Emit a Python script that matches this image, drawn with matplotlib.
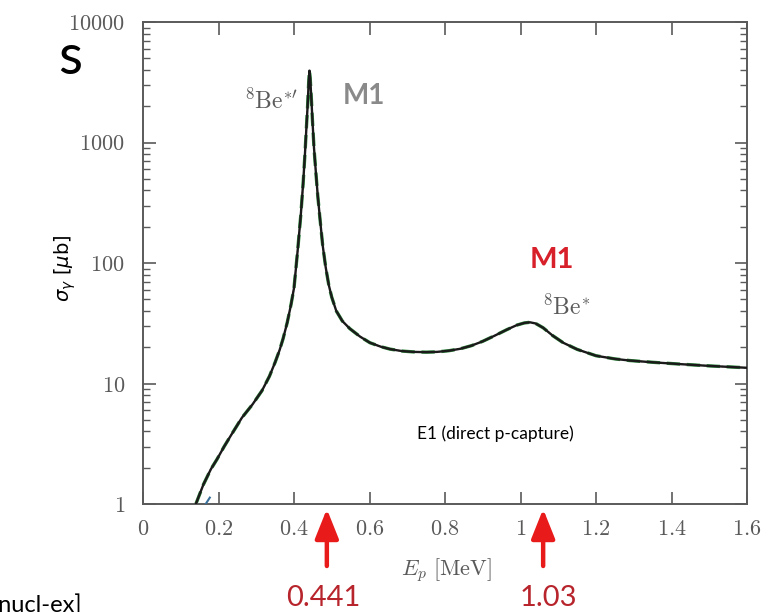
import matplotlib
matplotlib.use("Agg")
import matplotlib.pyplot as plt
from matplotlib.ticker import FixedLocator, NullFormatter, NullLocator

plt.rcParams['mathtext.fontset'] = 'cm'
plt.rcParams['font.family'] = ['Lato', 'DejaVu Sans']

# ---- data ----
energy = [0.140, 0.160, 0.180, 0.196, 0.215, 0.235, 0.262, 0.290, 0.315, 0.335,
          0.350, 0.362, 0.371, 0.382, 0.392, 0.400, 0.410, 0.418, 0.424, 0.429,
          0.433, 0.436, 0.439, 0.441, 0.443, 0.446, 0.449, 0.453, 0.458, 0.463,
          0.469, 0.476, 0.484, 0.492, 0.500, 0.512, 0.528, 0.548, 0.575, 0.601,
          0.630, 0.654, 0.685, 0.715, 0.750, 0.779, 0.810, 0.840, 0.870, 0.900,
          0.930, 0.964, 0.990, 1.010, 1.025, 1.040, 1.060, 1.085, 1.113, 1.150,
          1.200, 1.250, 1.290, 1.350, 1.420, 1.500, 1.600]
sigma = [1.0, 1.45, 1.95, 2.35, 3.0, 3.8, 5.2, 6.7, 8.7, 11.5,
         15.0, 19.0, 23.5, 32.0, 45.0, 62.0, 130.0, 250.0, 450.0, 800.0,
         1350.0, 2000.0, 3200.0, 3950.0, 3400.0, 2300.0, 1500.0, 900.0, 560.0, 360.0,
         230.0, 140.0, 92.0, 66.0, 52.0, 40.0, 33.0, 28.5, 24.5, 21.8,
         20.2, 19.3, 18.6, 18.3, 18.2, 18.3, 18.7, 19.4, 20.6, 22.4,
         24.8, 28.0, 30.5, 31.8, 32.2, 31.5, 29.0, 25.0, 21.8, 19.2,
         17.0, 16.0, 15.5, 15.0, 14.5, 14.0, 13.5]
# short second curve piece near the bottom
energy_b = [0.166, 0.177]
sigma_b = [1.0, 1.13]

xticks = [0, 0.2, 0.4, 0.6, 0.8, 1.0, 1.2, 1.4, 1.6]
xtick_labels = ['0', '0.2', '0.4', '0.6', '0.8', '1', '1.2', '1.4', '1.6']
yticks = [1, 10, 100, 1000, 10000]
ytick_labels = ['1', '10', '100', '1000', '10000']
resonance_labels = ['0.441', '1.03']
arrow_x = [0.487, 1.06]

W, H = 768, 612
fig = plt.figure(figsize=(W / 100, H / 100), dpi=100)
ax = fig.add_axes([143 / W, 1 - 504 / H, (747 - 143) / W, (504 - 22) / H])

gray = '#5a5a5a'
ax.plot(energy, sigma, color='#2e8b3e', lw=2.4, ls=(0, (4, 2)), zorder=2)
ax.plot(energy, sigma, color='#c03030', lw=1.0, ls=':', zorder=2.5)
ax.plot(energy, sigma, color='#1a1a1a', lw=1.7, zorder=3)
ax.plot(energy_b, sigma_b, color='#3a6f9a', lw=1.5, zorder=3)

ax.set_yscale('log')
ax.set_xlim(0, 1.6)
ax.set_ylim(1, 10000)

ax.set_xticks(xticks)
ax.set_xticklabels(['$' + t + '$' for t in xtick_labels])
ax.xaxis.set_minor_locator(NullLocator())
ax.set_yticks(yticks)
ax.set_yticklabels(['$' + t + '$' for t in ytick_labels])
minors = [m * 10 ** e for e in range(0, 4) for m in range(2, 10)]
ax.yaxis.set_minor_locator(FixedLocator(minors))
ax.yaxis.set_minor_formatter(NullFormatter())

ax.tick_params(axis='both', which='major', direction='in', length=9, width=1.2,
               colors=gray, labelsize=16, top=True, right=True)
ax.tick_params(axis='y', which='minor', direction='in', length=5, width=1.0,
               colors=gray, right=True, left=True)
ax.tick_params(axis='x', which='major', pad=11)
ax.tick_params(axis='y', which='major', pad=13)
for sp in ax.spines.values():
    sp.set_color(gray)
    sp.set_linewidth(1.4)

ax.set_xlabel(r'$E_p\ [\mathrm{MeV}]$', fontsize=16, color=gray)
ax.xaxis.set_label_coords((446 - 143) / 604, (504 - 556) / 482)
ax.set_ylabel(r'$\sigma_\gamma$ [$\mu$b]', fontsize=14, color='black',
              family='DejaVu Sans', math_fontfamily='dejavusans')
ax.yaxis.set_label_coords((78 - 143) / 604, (504 - 268) / 482)

def px(x, y):
    return x / W, 1 - y / H

# annotations in the plot
fig.text(*px(271, 100), r'$^{8}\mathrm{Be}^{*\prime}$', fontsize=17, color=gray,
         ha='center', va='center')
fig.text(*px(364, 96), 'M1', fontsize=20, color='#8a8a8a', fontweight='bold',
         ha='center', va='center')
fig.text(*px(552, 260), 'M1', fontsize=21, color='#d8202a', fontweight='bold',
         ha='center', va='center')
fig.text(*px(566, 306), r'$^{8}\mathrm{Be}^{*}$', fontsize=17, color=gray,
         ha='center', va='center')
fig.text(*px(495, 434), 'E1 (direct p-capture)', fontsize=12.5, color='black',
         ha='center', va='center')

# red arrows and resonance energies
for xa, lab, lx in zip(arrow_x, resonance_labels, [323, 548]):
    ax.annotate('', xy=(xa, H - 509), xytext=(xa, H - 566),
                xycoords=('data', 'figure pixels'),
                textcoords=('data', 'figure pixels'),
                arrowprops=dict(arrowstyle='-|>,head_width=0.4,head_length=1.0',
                                lw=3.2, color='#e81a1a', mutation_scale=18,
                                shrinkA=0, shrinkB=0),
                annotation_clip=False)
    fig.text(*px(lx, 598), lab, fontsize=21, color='#b8242c', ha='center', va='center')

# cropped slide text at the left edge
fig.text(*px(70, 58), 's', fontsize=40, color='black', ha='center', va='center')
fig.text(*px(82, 612), '[nucl-ex]', fontsize=17, color='black', ha='right', va='baseline')

fig.savefig('out.png', dpi=100, facecolor='white')
